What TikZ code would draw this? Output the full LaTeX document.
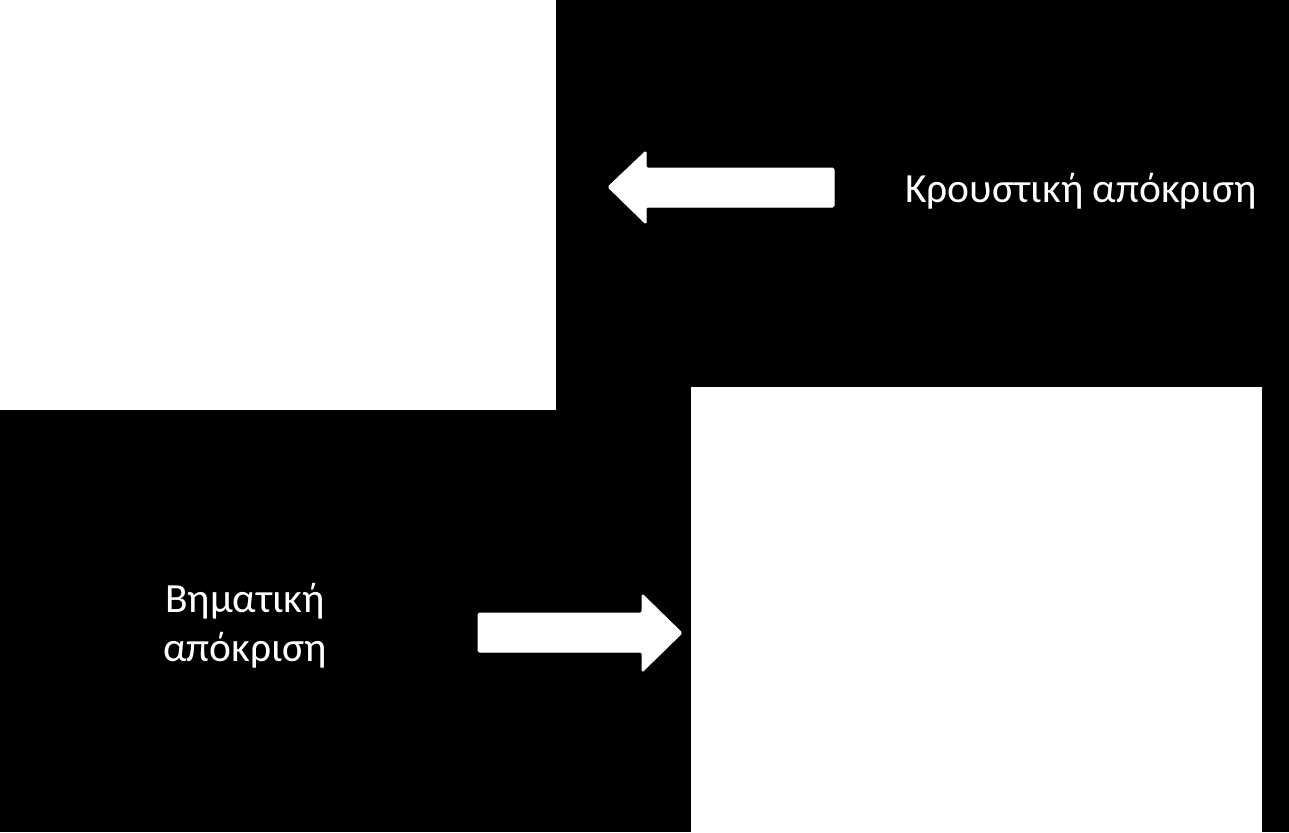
\documentclass[tikz,border=0pt]{standalone}
\usepackage{fontspec}
\setmainfont{Carlito}
\begin{document}
\begin{tikzpicture}[x=1pt,y=-1pt,
  panel/.style={fill=white,draw=none},
  label/.style={text=white,font=\fontsize{41.5}{49}\selectfont,align=center,inner sep=0pt},
  arrowshape/.style={fill=white,draw=white,line width=1pt,rounded corners=1.5pt}]
\fill[black] (0,0) rectangle (1289,832);
\useasboundingbox (0,0) rectangle (1289,832);
% white panels
\fill[panel] (0,0) rectangle (556,410);
\fill[panel] (691,387) rectangle (1262,832);
% left-pointing arrow
\filldraw[arrowshape] (608,187) -- (646,151) -- (646,168) -- (834,168) -- (834,207) -- (646,207) -- (646,224) -- cycle;
% right-pointing arrow
\filldraw[arrowshape] (682,633) -- (642,594) -- (642,613) -- (478,613) -- (478,652) -- (642,652) -- (642,672) -- cycle;
% labels
\node[label,anchor=west] (k) at (905,191) {Κρουστική απόκριση};
\node[label] (b) at (245,626) {Βηματική\\απόκριση};
\end{tikzpicture}
\end{document}
